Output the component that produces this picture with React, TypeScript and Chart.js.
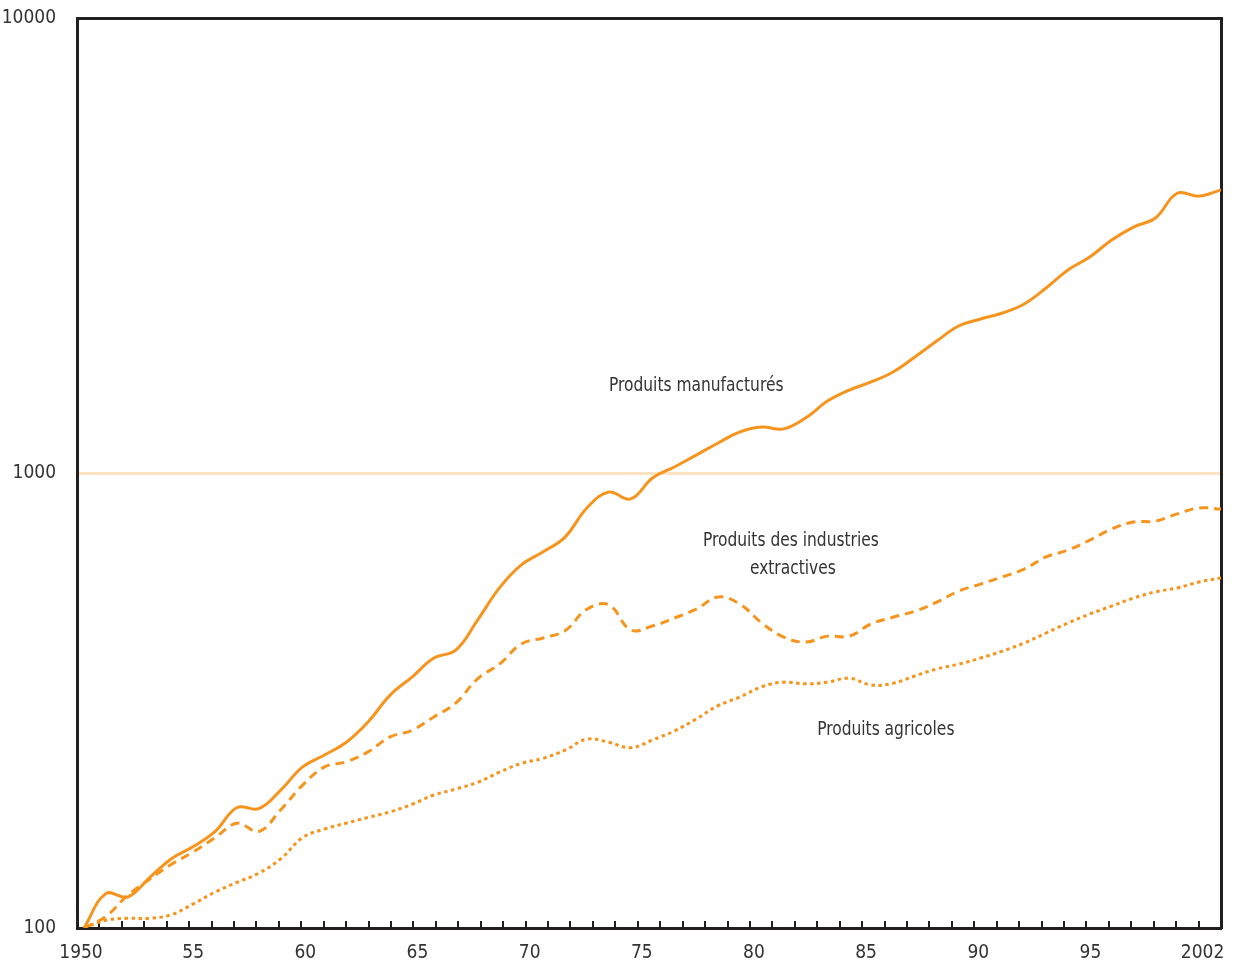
import React, { useEffect, useRef } from 'react';
import { Chart, registerables } from 'chart.js';

Chart.register(...registerables);

// ---- Data (indices 1950 = 100, log scale) ----
const years = [
  1950, 1951, 1952, 1953, 1954, 1955, 1956, 1957, 1958, 1959,
  1960, 1961, 1962, 1963, 1964, 1965, 1966, 1967, 1968, 1969,
  1970, 1971, 1972, 1973, 1974, 1975, 1976, 1977, 1978, 1979,
  1980, 1981, 1982, 1983, 1984, 1985, 1986, 1987, 1988, 1989,
  1990, 1991, 1992, 1993, 1994, 1995, 1996, 1997, 1998, 1999,
  2000, 2001, 2002,
];

const produitsManufactures = [
  100, 119, 117, 129, 142, 151, 163, 184, 183, 201,
  226, 240, 256, 284, 325, 356, 392, 408, 475, 559,
  628, 671, 723, 838, 908, 877, 975, 1031, 1095, 1164,
  1231, 1262, 1250, 1321, 1439, 1522, 1585, 1667, 1799, 1950,
  2104, 2180, 2247, 2352, 2550, 2794, 2984, 3251, 3472, 3634,
  4120, 4060, 4188,
];

const produitsExtractives = [
  100, 106, 118, 128, 138, 147, 158, 170, 163, 182,
  206, 226, 232, 244, 263, 272, 291, 312, 353, 380,
  421, 434, 450, 502, 513, 452, 461, 480, 502, 534,
  515, 468, 436, 425, 438, 438, 466, 482, 497, 520,
  550, 570, 591, 615, 654, 677, 712, 753, 780, 784,
  813, 838, 833,
];

const produitsAgricoles = [
  100, 104, 105, 105, 107, 113, 120, 126, 132, 142,
  158, 165, 170, 175, 180, 187, 196, 202, 209, 220,
  230, 236, 246, 260, 256, 249, 259, 271, 288, 308,
  322, 339, 347, 344, 347, 354, 342, 345, 358, 371,
  380, 392, 406, 423, 445, 468, 490, 510, 531, 548,
  559, 576, 588,
];

const yTickValues = [100, 1000, 10000];
const xTickLabels = ['1950', '55', '60', '65', '70', '75', '80', '85', '90', '95', '2002'];
const xTickCount = 52; // tick marks 0..51 along the time axis

const annotationLabels = [
  { text: 'Produits manufacturés', year: 1978.0, value: 1553 },
  { text: 'Produits des industries', year: 1982.33, value: 709 },
  { text: 'extractives', year: 1982.42, value: 615 },
  { text: 'Produits agricoles', year: 1986.67, value: 272 },
];

// ---- Styles ----
const ORANGE = '#f7941d';
const AXIS = '#231f20';
const TEXT = '#333333';
const GRID_1000 = '#fde2c4';
const FONT_FAMILY = "'DejaVu Sans Condensed', 'Liberation Sans', sans-serif";
const ANNOT_FONT = "20px 'DejaVu Sans Condensed', 'Liberation Sans', sans-serif";
const ANNOT_STRETCH = 0.86;

const annotationPlugin = {
  id: 'textAnnotations',
  afterDatasetsDraw(chart: any) {
    const { ctx } = chart;
    const xs = chart.scales.xd;
    const ys = chart.scales.y;
    ctx.save();
    ctx.font = ANNOT_FONT;
    ctx.fillStyle = TEXT;
    ctx.textAlign = 'center';
    ctx.textBaseline = 'middle';
    annotationLabels.forEach((a) => {
      ctx.save();
      ctx.translate(xs.getPixelForValue(a.year), ys.getPixelForValue(a.value));
      ctx.scale(ANNOT_STRETCH, 1);
      ctx.fillText(a.text, 0, 0);
      ctx.restore();
    });
    ctx.restore();
  },
};

export default function App() {
  const canvasRef = useRef<HTMLCanvasElement | null>(null);

  useEffect(() => {
    const canvas = canvasRef.current;
    if (!canvas) return;

    const toPoints = (vals: number[]) => years.map((yr, i) => ({ x: yr, y: vals[i] }));

    const chart = new Chart(canvas, {
      type: 'line',
      data: {
        datasets: [
          {
            label: 'Produits manufacturés',
            data: toPoints(produitsManufactures),
            borderColor: ORANGE,
            borderWidth: 3,
            pointRadius: 0,
            tension: 0.4,
            fill: false,
            xAxisID: 'xd',
            yAxisID: 'y',
          },
          {
            label: 'Produits des industries extractives',
            data: toPoints(produitsExtractives),
            borderColor: ORANGE,
            borderWidth: 3,
            borderDash: [9, 6],
            pointRadius: 0,
            tension: 0.4,
            fill: false,
            xAxisID: 'xd',
            yAxisID: 'y',
          },
          {
            label: 'Produits agricoles',
            data: toPoints(produitsAgricoles),
            borderColor: ORANGE,
            borderWidth: 3,
            borderDash: [3.5, 3.5],
            pointRadius: 0,
            tension: 0.4,
            fill: false,
            xAxisID: 'xd',
            yAxisID: 'y',
          },
        ],
      },
      options: {
        responsive: false,
        animation: false,
        events: [],
        layout: { padding: { top: 18, right: 22, left: 0, bottom: 0 } },
        plugins: {
          legend: { display: false },
          tooltip: { enabled: false },
        },
        scales: {
          xd: {
            type: 'linear',
            display: false,
            min: 1949.68,
            max: 2002,
          },
          x: {
            type: 'linear',
            position: 'bottom',
            min: 0,
            max: xTickCount - 1,
            afterBuildTicks: (scale: any) => {
              scale.ticks = Array.from({ length: xTickCount }, (_, i) => ({ value: i }));
            },
            afterFit: (scale: any) => {
              scale.height = 40;
              scale.paddingLeft = 0;
              scale.paddingRight = 0;
            },
            grid: {
              display: true,
              drawOnChartArea: false,
              drawTicks: true,
              tickLength: -7,
              tickColor: AXIS,
              tickWidth: 2,
              lineWidth: 2,
              color: AXIS,
            },
            border: { display: true, color: AXIS, width: 3 },
            ticks: {
              autoSkip: false,
              maxRotation: 0,
              minRotation: 0,
              padding: 21,
              labelOffset: 4,
              color: TEXT,
              font: { family: FONT_FAMILY, size: 19 },
              callback: (value: any) => {
                const v = Number(value);
                if (v % 5 === 0 && v / 5 < xTickLabels.length) return xTickLabels[v / 5];
                return '';
              },
            },
          },
          xTop: {
            type: 'linear',
            position: 'top',
            min: 0,
            max: 1,
            afterFit: (scale: any) => {
              scale.height = 0;
              scale.paddingLeft = 0;
              scale.paddingRight = 0;
            },
            grid: { display: false, drawTicks: false },
            border: { display: true, color: AXIS, width: 3 },
            ticks: { display: false },
          },
          y: {
            type: 'logarithmic',
            position: 'left',
            min: 100,
            max: 10000,
            afterBuildTicks: (scale: any) => {
              scale.ticks = yTickValues.map((v) => ({ value: v }));
            },
            afterFit: (scale: any) => {
              scale.width = 77;
              scale.paddingTop = 0;
              scale.paddingBottom = 0;
            },
            grid: {
              display: true,
              drawTicks: false,
              lineWidth: 3,
              color: (ctx: any) =>
                ctx.tick && ctx.tick.value === 1000 ? GRID_1000 : 'rgba(0,0,0,0)',
            },
            border: { display: true, color: AXIS, width: 3 },
            ticks: {
              padding: 21,
              color: TEXT,
              font: { family: FONT_FAMILY, size: 19 },
              callback: (value: any) => String(value),
            },
          },
          yRight: {
            type: 'linear',
            position: 'right',
            min: 0,
            max: 1,
            afterFit: (scale: any) => {
              scale.width = 0;
              scale.paddingTop = 0;
              scale.paddingBottom = 0;
            },
            grid: { display: false, drawTicks: false },
            border: { display: true, color: AXIS, width: 3 },
            ticks: { display: false },
          },
        },
      } as any,
      plugins: [annotationPlugin],
    });

    return () => {
      chart.destroy();
    };
  }, []);

  return (
    <div style={{ position: 'absolute', left: 0, top: 0, width: 1243, height: 968, background: '#ffffff' }}>
      <canvas ref={canvasRef} width={1243} height={968} style={{ display: 'block' }} />
    </div>
  );
}
